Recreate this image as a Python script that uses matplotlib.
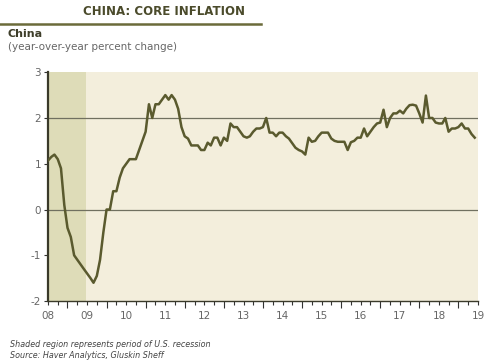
import numpy as np
import pandas as pd
import matplotlib
matplotlib.use("Agg")
import matplotlib.pyplot as plt
import matplotlib.dates as mdates
from matplotlib.ticker import FuncFormatter, NullFormatter

plt.rcParams["axes.unicode_minus"] = False

# China core inflation, y/y %, monthly from Jan 2008
core = [
    1.07, 1.15, 1.2, 1.1, 0.9, 0.1, -0.4, -0.6, -1.0, -1.1, -1.2, -1.3,      # 2008
    -1.4, -1.5, -1.6, -1.45, -1.1, -0.5, 0.0, 0.0, 0.4, 0.4, 0.7, 0.9,       # 2009
    1.0, 1.1, 1.1, 1.1, 1.3, 1.5, 1.7, 2.3, 2.0, 2.3, 2.3, 2.4,              # 2010
    2.5, 2.4, 2.5, 2.4, 2.2, 1.8, 1.6, 1.55, 1.4, 1.4, 1.4, 1.3,             # 2011
    1.3, 1.46, 1.4, 1.57, 1.57, 1.4, 1.57, 1.5, 1.88, 1.8, 1.8, 1.7,         # 2012
    1.6, 1.57, 1.6, 1.7, 1.77, 1.77, 1.8, 2.0, 1.68, 1.68, 1.6, 1.68,        # 2013
    1.68, 1.6, 1.55, 1.45, 1.35, 1.3, 1.27, 1.2, 1.57, 1.48, 1.5, 1.6,       # 2014
    1.68, 1.68, 1.68, 1.55, 1.5, 1.48, 1.48, 1.48, 1.3, 1.47, 1.5, 1.57,     # 2015
    1.57, 1.77, 1.6, 1.7, 1.8, 1.88, 1.9, 2.18, 1.8, 2.0, 2.1, 2.1,          # 2016
    2.16, 2.1, 2.2, 2.28, 2.29, 2.27, 2.1, 1.9, 2.49, 2.0, 2.0, 1.9,         # 2017
    1.88, 1.88, 2.0, 1.7, 1.77, 1.77, 1.8, 1.88, 1.77, 1.77, 1.65, 1.57,     # 2018
]
dates = pd.date_range("2008-01-01", periods=len(core), freq="MS")
recession = (pd.Timestamp("2008-01-01"), pd.Timestamp("2008-12-20"))

olive = "#5a5a2e"
grey = "#666666"

fig = plt.figure(figsize=(4.92, 3.61), dpi=100)
ax = fig.add_axes([0.0976, 0.166, 0.874, 0.634])
ax.set_facecolor("#f3eedc")

ax.axvspan(recession[0], recession[1], color="#dedcb8", lw=0, zorder=0)
ax.axhline(2, color="#707060", lw=0.9, zorder=1)
ax.axhline(0, color="#707060", lw=0.9, zorder=1)
ax.plot(dates, core, color=olive, lw=1.8, zorder=3)

ax.set_xlim(pd.Timestamp("2008-01-01"), pd.Timestamp("2019-01-01"))
ax.set_ylim(-2, 3)
ax.set_yticks([-2, -1, 0, 1, 2, 3])

ax.xaxis.set_major_locator(mdates.MonthLocator(bymonth=[7]))
ax.xaxis.set_major_formatter(NullFormatter())
ax.xaxis.set_minor_locator(mdates.MonthLocator(bymonth=[1, 4, 10]))
ax.xaxis.set_minor_formatter(FuncFormatter(
    lambda v, p: mdates.num2date(v).strftime("%y") if mdates.num2date(v).month == 1 else ""))
ax.tick_params(axis="x", which="major", length=5, width=0.8, color="#333333")
ax.tick_params(axis="x", which="minor", length=3, width=0.8, color="#333333",
               labelsize=7.5, labelcolor=grey, pad=4)
ax.tick_params(axis="y", length=3, width=0.8, color="#333333", labelsize=7.5,
               labelcolor=grey, pad=2)

for s in ["top", "right"]:
    ax.spines[s].set_visible(False)
ax.spines["left"].set_color("#3a3a2a")
ax.spines["left"].set_linewidth(1.6)
ax.spines["bottom"].set_color("#3a3a2a")
ax.spines["bottom"].set_linewidth(1.0)

fig.text(0.168, 0.967, "CHINA: CORE INFLATION", fontsize=8.5, fontweight="bold",
         color="#4b4b2b", va="center")
fig.add_artist(plt.Line2D([0, 0.53], [0.933, 0.933], color="#6b6b3a", lw=1.8))
fig.text(0.016, 0.905, "China", fontsize=8, fontweight="bold", color="#3e3e2a", va="center")
fig.text(0.016, 0.870, "(year-over-year percent change)", fontsize=7.5, color=grey, va="center")

fig.text(0.02, 0.047, "Shaded region represents period of U.S. recession", fontsize=5.8,
         style="italic", color="#444444", va="center")
fig.text(0.02, 0.015, "Source: Haver Analytics, Gluskin Sheff", fontsize=5.8,
         style="italic", color="#444444", va="center")

fig.savefig("out.png", dpi=100)
